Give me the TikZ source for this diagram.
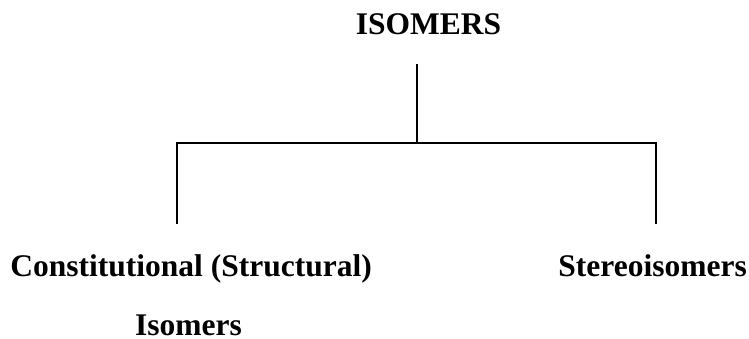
\documentclass[tikz,border=0pt]{standalone}
\usepackage{fontspec}
\setmainfont{Liberation Serif}
\begin{document}
\begin{tikzpicture}[x=1pt,y=-1pt,
  lbl/.style={inner sep=0pt, font=\fontsize{31.5}{36}\selectfont\bfseries},
  conn/.style={line width=2pt}]
\useasboundingbox (0,0) rectangle (749,339);
\node[lbl, anchor=base] (top) at (428.5,35) {ISOMERS};
\node[lbl, anchor=base east] (left) at (372,276.5) {Constitutional (Structural)};
\node[lbl, anchor=base west, text depth=0pt] (left2) at (135,335) {Isomers};
\node[lbl, anchor=base east] (right) at (747,276.5) {Stereoisomers};
\coordinate (t0) at (416.7,64);
\coordinate (j) at (416.7,143);
\coordinate (jl) at (177,143);
\coordinate (jr) at (656,143);
\coordinate (lb) at (177,224);
\coordinate (rb) at (656,224);
\draw[conn] (t0) -- (j);
\draw[conn] (lb) -- (jl) -- (jr) -- (rb);
\end{tikzpicture}
\end{document}
